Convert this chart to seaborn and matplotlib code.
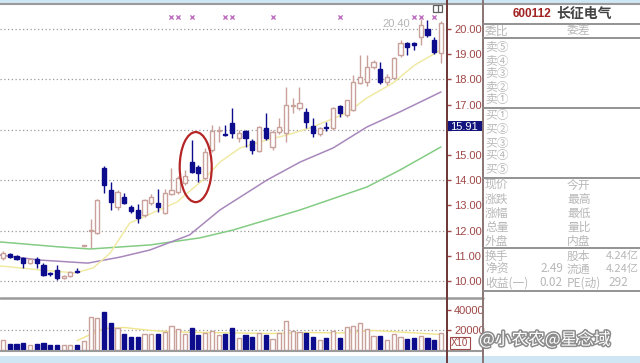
import numpy as np
import pandas as pd
import matplotlib
matplotlib.use("Agg")
import matplotlib.pyplot as plt
import seaborn as sns
from matplotlib.patches import Ellipse, Rectangle
import matplotlib.patheffects as pe

# ---------------- data ----------------
opens = [10.91, 11.07, 10.99, 10.91, 10.71, 10.87, 10.63, 10.30, 10.44, 10.12, 10.20, 10.40,
         11.39, 11.98, 11.90, 14.48, 13.61, 12.94, 13.33, 12.94, 12.82, 12.62, 13.10, 13.10,
         12.70, 13.45, 13.53, 13.89, 14.72, 14.52, 14.09, 15.20, 15.95, 15.83, 16.27, 15.67,
         15.95, 15.56, 15.16, 16.07, 15.32, 15.91, 15.87, 16.95, 16.87, 16.71, 16.15, 15.83,
         16.13, 16.07, 16.94, 16.59, 16.79, 17.86, 17.90, 18.49, 18.41, 17.90, 18.06, 18.97,
         19.44, 19.44, 19.68, 20.00, 19.56, 19.05]
closes = [11.11, 10.95, 10.87, 10.71, 10.87, 10.71, 10.24, 10.26, 10.12, 10.20, 10.36, 10.36,
          11.40, 12.02, 13.21, 13.81, 13.13, 13.53, 13.10, 12.78, 12.50, 13.21, 13.33, 12.94,
          13.49, 13.61, 14.09, 14.17, 14.33, 14.29, 15.12, 15.95, 16.00, 15.79, 15.87, 15.87,
          15.67, 15.20, 16.11, 15.67, 15.91, 16.11, 16.98, 17.00, 17.06, 16.31, 15.87, 16.07,
          16.09, 16.87, 16.67, 17.18, 17.90, 18.10, 18.49, 18.69, 17.90, 18.10, 18.85, 19.44,
          19.29, 19.37, 20.16, 19.76, 19.09, 20.24]
highs = [11.20, 11.12, 11.03, 10.95, 10.90, 10.95, 10.70, 10.35, 10.63, 10.24, 10.40, 10.50,
         11.40, 12.46, 13.25, 14.56, 13.93, 13.60, 13.49, 13.00, 13.06, 13.25, 13.45, 13.65,
         13.65, 14.48, 14.15, 14.40, 15.60, 14.60, 15.28, 16.19, 16.15, 16.19, 16.87, 15.99,
         16.00, 15.63, 16.15, 16.67, 16.00, 16.47, 17.70, 17.26, 17.70, 16.87, 16.47, 16.10,
         16.30, 16.90, 17.00, 17.20, 18.17, 18.97, 18.97, 18.77, 18.69, 18.20, 18.90, 19.56,
         19.50, 19.50, 20.40, 20.36, 19.68, 20.30]
lows = [10.85, 10.92, 10.83, 10.52, 10.68, 10.52, 10.20, 10.20, 10.04, 10.08, 10.16, 10.30,
        11.40, 11.31, 11.85, 13.50, 12.82, 12.82, 13.05, 12.70, 12.30, 12.55, 13.00, 12.74,
        12.65, 13.40, 13.45, 13.80, 14.30, 13.93, 14.00, 15.10, 15.52, 15.75, 15.67, 15.52,
        15.32, 15.04, 15.10, 15.60, 15.20, 15.85, 15.52, 16.67, 16.80, 16.07, 15.71, 15.75,
        15.95, 15.99, 16.51, 16.50, 16.75, 17.80, 17.74, 18.40, 17.80, 17.78, 18.00, 18.90,
        18.97, 19.17, 19.37, 19.70, 19.00, 18.65]
volumes = [9500, 5500, 5500, 6200, 4500, 5500, 6200, 4500, 4500, 4500, 4500, 4200,
           8800, 32200, 31200, 37800, 26800, 21200, 15200, 12800, 12800, 15200, 15200, 15200,
           17800, 23500, 20200, 15200, 21200, 14200, 16800, 18800, 14500, 15500, 21200, 11800,
           14500, 12800, 16800, 14500, 10200, 16200, 28800, 18800, 17800, 16200, 12800, 9500,
           11200, 18800, 11200, 22800, 23800, 26800, 20200, 13500, 13500, 9500, 15200, 12800,
           10200, 11200, 13500, 11200, 9500, 16200]

# moving-average lines (candle index, price)
ma_short_idx = [-0.45, 5.5, 10.7, 13.4, 15.9, 18.8, 25.8, 30.0, 32.2, 35.2, 39.2, 42.1,
                45.5, 48.5, 51.0, 54.0, 57.9, 61.1, 65.0]
ma_short_val = [10.60, 10.44, 10.32, 10.52, 11.11, 12.30, 13.13, 14.09, 14.72, 15.28, 15.60,
                15.79, 16.07, 16.39, 16.67, 17.26, 17.86, 18.57, 19.17]
ma_mid_idx = [-0.45, 5.5, 12.6, 17.4, 21.8, 27.7, 32.2, 39.2, 44.1, 49.0, 54.0, 58.9, 65.0]
ma_mid_val = [11.03, 10.83, 10.71, 10.95, 11.23, 11.83, 12.82, 14.01, 14.72, 15.28, 16.11,
              16.71, 17.50]
ma_long_idx = [-0.45, 8.5, 12.9, 21.8, 29.2, 34.1, 44.1, 54.0, 58.9, 65.0]
ma_long_val = [11.55, 11.35, 11.27, 11.43, 11.71, 12.02, 12.82, 13.73, 14.40, 15.32]
vol_ma_idx = [11, 13, 15, 18, 22, 26, 30, 35, 40, 45, 50, 55, 60, 65]
vol_ma_val = [9000, 15000, 21000, 22000, 19000, 17500, 17000, 16500, 16000, 17000, 16500,
              19000, 17000, 15000]

event_idx = [25, 26, 28, 33, 34, 40, 50, 61, 62, 64]
price_ticks = [10, 11, 12, 13, 14, 15, 16, 17, 18, 19, 20]
vol_ticks = [20000, 40000]
last_price = 15.91

# ---------------- style ----------------
sns.set_theme(style="white")
plt.rcParams["font.family"] = ["Liberation Sans", "Noto Sans CJK SC", "DejaVu Sans"]
CJK = ["Noto Sans CJK SC", "DejaVu Sans"]

UP = "#c9a09a"
DOWN = "#0c0c8c"
AXC = "#a04848"

W, H = 640, 363
fig = plt.figure(figsize=(6.4, 3.63), dpi=100)
fig.patch.set_facecolor("white")

def fx(x): return x / W
def fy(y): return 1 - y / H

ax = fig.add_axes([0, fy(298), fx(447), (298 - 4) / H])
axv = fig.add_axes([0, fy(351), fx(447), (351 - 298) / H])

n = len(opens)
idx = np.arange(n)
df = pd.DataFrame({"i": idx, "o": opens, "c": closes, "h": highs, "l": lows, "v": volumes})
df["up"] = df["c"] >= df["o"]

# moving averages
sns.lineplot(x=ma_long_idx, y=ma_long_val, ax=ax, color="#84cc84", lw=1.1, zorder=1)
sns.lineplot(x=ma_mid_idx, y=ma_mid_val, ax=ax, color="#a888bc", lw=1.1, zorder=1)
sns.lineplot(x=ma_short_idx, y=ma_short_val, ax=ax, color="#f0eaa4", lw=1.1, zorder=1)

# gridlines
for p in [10, 12, 14, 16, 18, 20]:
    ax.axhline(p, color="#9a9a9a", lw=0.9, ls=(0, (1, 2)), zorder=0)

bw = 0.62
for up, col in [(True, UP), (False, DOWN)]:
    d = df[df["up"] == up]
    ax.vlines(d["i"], d["l"], d["h"], color=col, lw=1.0, zorder=2)
    bottoms = np.minimum(d["o"], d["c"])
    heights = np.maximum(np.abs(d["c"] - d["o"]), 0.02)
    ax.bar(d["i"], heights, bottom=bottoms, width=bw,
           color="white" if up else DOWN, edgecolor=col, lw=1.0, zorder=3)
    axv.bar(d["i"], d["v"], width=bw, color="white" if up else DOWN,
            edgecolor=col, lw=1.0, zorder=3)

# event markers
sns.scatterplot(x=event_idx, y=[20.48] * len(event_idx), ax=ax, marker="x",
                color="#c070c0", s=9, linewidth=1, zorder=4)

# highlighted ellipse
ax.add_patch(Ellipse((28.6, 14.52), 4.75, 2.78, fill=False, ec="#b52525", lw=1.6, zorder=5))

ax.set_xlim(-0.45, 65.9)
ax.set_ylim(20 - (298 - 29) / 25.2, 20 + 25 / 25.2)
axv.set_xlim(-0.45, 65.9)
axv.set_ylim(-1500, 51500)

sns.lineplot(x=vol_ma_idx, y=vol_ma_val, ax=axv, color="#f0e48c", lw=1.0, zorder=2)
axv.axhline(20000, color="#9a9a9a", lw=0.9, ls=(0, (1, 2)), zorder=0)

price_labels = ["" if t == 16 else "{:.2f}".format(t) for t in price_ticks]
vol_labels = ["{:d}".format(t) for t in vol_ticks]
for a, ticks, labels in [(ax, price_ticks, price_labels), (axv, vol_ticks, vol_labels)]:
    a.set_facecolor("white")
    for s in ["left", "top", "bottom"]:
        a.spines[s].set_visible(False)
    a.spines["right"].set_color("#6e3a3a")
    a.spines["right"].set_linewidth(1.4)
    a.set_xticks([])
    a.yaxis.tick_right()
    a.set_yticks(ticks)
    a.set_yticklabels(labels)
    a.tick_params(axis="y", direction="out", length=3, width=1, color=AXC,
                  labelcolor=AXC, labelsize=8, pad=2)
    a.grid(False)
    a.set_xlabel(""); a.set_ylabel("")

# ---------------- overlay (frame + right panel) ----------------
ov = fig.add_axes([0, 0, 1, 1], zorder=10)
ov.set_xlim(0, W); ov.set_ylim(H, 0); ov.axis("off")
ov.patch.set_alpha(0)

ov.add_patch(Rectangle((0, 0), W, 3, color="#cfe6f5", lw=0))
ov.add_patch(Rectangle((0, 356), W, 7, color="#cfe6f5", lw=0))
ov.plot([0, W], [4, 4], color="#9a9a9a", lw=1.5)
ov.plot([0, 483], [297.5, 297.5], color="#9a9a9a", lw=1.8)
ov.plot([0, 483], [351, 351], color="#9a9a9a", lw=1.5)
ov.plot([447, 447], [0, H], color="#6e3a3a", lw=1.4)
ov.plot([483, 483], [0, H], color="#8a7474", lw=1.4)
for yy in [24, 38, 108, 178, 248, 291]:
    ov.plot([483, W], [yy, yy], color="#8a8a8a", lw=1.3)

# current price tag
ov.add_patch(Rectangle((447, 121), 36, 10, color="#14147e", lw=0))
ov.text(450, 126.5, "{:.2f}".format(last_price), color="white", fontsize=8,
        va="center", ha="left")
ov.text(396, 24, "20.40", color="#b4b4b4", fontsize=8, va="center", ha="center")

# small box at top right
ov.add_patch(Rectangle((433, 5), 9, 7, fill=False, ec="#606060", lw=0.9))
ov.plot([437.5, 437.5], [5, 12], color="#606060", lw=0.9)

# volume unit tag
ov.text(451, 343, "X10", color=AXC, fontsize=7, va="center", ha="left",
        bbox=dict(boxstyle="square,pad=0.15", fc="white", ec=AXC, lw=0.8))

# title
ov.text(513, 14, "600112", color="#a02222", fontsize=8.5, fontweight="bold",
        va="center", ha="left")
ov.text(556, 14, "长征电气", color="#444444", fontsize=10, fontweight="bold",
        va="center", ha="left", family=CJK)

G = "#b8b8b8"
def t(x, y, s, ha="left", fs=8.5):
    ov.text(x, y, s, color=G, fontsize=fs, va="center", ha=ha, family=CJK)

t(485, 31, "委比"); t(567, 31, "委差")
for k, yy in zip(["⑤", "④", "③", "②", "①"], [48, 61, 74, 87, 100]):
    t(485, yy, "卖" + k)
for k, yy in zip(["①", "②", "③", "④", "⑤"], [116, 129, 143, 156, 170]):
    t(485, yy, "买" + k)
rows = [("现价", "今开", 185), ("涨跌", "最高", 199), ("涨幅", "最低", 213),
        ("总量", "量比", 227), ("外盘", "内盘", 241)]
for a_, b_, yy in rows:
    t(485, yy, a_); t(567, yy, b_)
t(485, 256, "换手"); t(567, 256, "股本"); t(606, 256, "4.24亿", fs=8)
t(485, 269, "净资"); t(563, 269, "2.49", ha="right"); t(567, 269, "流通"); t(606, 269, "4.24亿", fs=8)
t(485, 283, "收益(一)"); t(563, 283, "0.02", ha="right"); t(567, 283, "PE(动)"); t(608, 283, "292")

# watermark
ov.text(479, 340, "@小农农@星念域", color="white", fontsize=12, va="center", ha="left",
        family=CJK, path_effects=[pe.withStroke(linewidth=2.2, foreground="#8c8c8c")])

fig.savefig("out.png", dpi=100)
